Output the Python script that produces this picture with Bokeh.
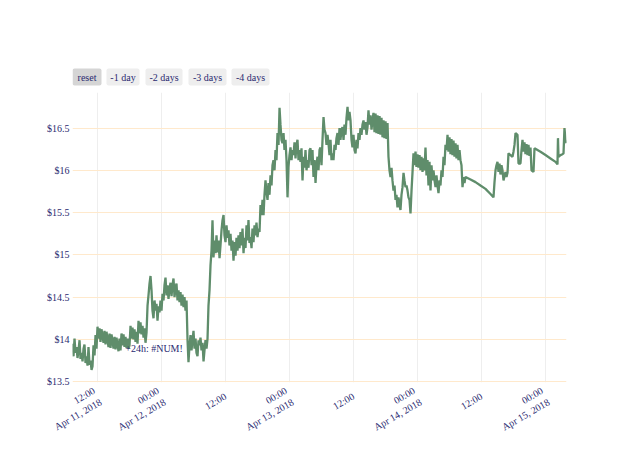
import math
import pandas as pd
from bokeh.plotting import figure
from bokeh.layouts import column
from bokeh.models import Range1d, FixedTicker, CustomJSTickFormatter, Label, ColumnDataSource
from bokeh.core.properties import value
from bokeh.embed import file_html
from bokeh.resources import INLINE

# ---- data: hours since 2018-04-11 00:00 and price (USD) ----
seg1_hours = [7.31, 7.50, 7.69, 7.88, 8.06, 8.25, 8.44, 8.63, 8.81, 9.00, 9.19, 9.38, 9.56, 9.75, 9.94,
              10.13, 10.31, 10.50, 10.69, 10.88, 11.06, 11.25, 11.44, 11.63, 11.81, 12.00]
seg1_price = [13.95, 13.80, 14.01, 13.84, 13.91, 13.78, 13.87, 13.99, 13.77, 13.84, 13.74, 13.89, 13.94, 13.72, 13.80,
              13.69, 13.91, 13.70, 13.75, 13.64, 13.68, 13.93, 13.81, 14.05, 13.89, 14.15]

seg2_hours = [12.19, 12.38, 12.56, 12.75, 13.13, 13.31, 13.50, 13.69, 14.06, 14.25, 14.44, 14.63, 15.00, 15.19,
              15.38, 15.56, 15.94, 16.13, 16.31, 16.50, 16.69, 16.88, 17.06, 17.25, 17.44, 17.63, 17.81, 18.00,
              18.19, 18.38, 18.56, 18.75, 18.94, 19.13, 19.31, 19.50, 19.69, 19.88, 20.06, 20.25, 20.44, 20.63,
              20.81, 21.00, 21.19]
seg2_price = [14.01, 14.13, 13.97, 14.12, 13.96, 14.10, 13.94, 14.09, 13.91, 14.07, 13.90, 14.06, 13.89, 14.03,
              13.88, 14.02, 13.86, 14.01, 13.87, 14.07, 13.93, 14.06, 13.91, 14.03, 13.90, 14.01, 13.89, 13.93,
              14.16, 14.01, 14.14, 14.00, 14.12, 13.97, 14.09, 13.95, 14.22, 14.07, 14.20, 14.06, 14.16, 14.02,
              14.13, 13.96, 14.08]

seg3_hours = [21.38, 21.56, 21.75, 21.94, 22.13, 22.31, 22.50, 22.69, 22.88, 23.06, 23.25, 23.44, 23.63, 23.81,
              24.00, 24.19, 24.38, 24.56, 24.75, 24.94, 25.13, 25.31, 25.50, 25.69, 25.88, 26.06, 26.25, 26.44,
              26.63, 26.81, 27.00, 27.19, 27.38, 27.56, 27.75, 27.94, 28.13, 28.31, 28.50, 28.69, 28.88, 29.06,
              29.25, 29.44, 29.63, 29.81, 30.00, 30.19, 30.38, 30.56, 30.75, 30.94, 31.13, 31.31, 31.50, 31.69,
              31.88, 32.06, 32.25, 32.44, 32.63, 32.81, 33.00, 33.19, 33.38, 33.56]
seg3_price = [14.40, 14.52, 14.66, 14.75, 14.58, 14.34, 14.25, 14.46, 14.34, 14.42, 14.22, 14.39, 14.32, 14.46,
              14.34, 14.54, 14.46, 14.64, 14.73, 14.52, 14.64, 14.48, 14.60, 14.67, 14.51, 14.64, 14.72, 14.50,
              14.61, 14.66, 14.46, 14.58, 14.44, 14.56, 14.40, 14.53, 14.38, 14.50, 14.34, 14.46, 13.99, 13.73,
              13.93, 14.05, 13.87, 13.99, 14.10, 13.89, 14.01, 13.84, 13.80, 13.99, 13.93, 14.02, 13.87, 13.96,
              13.74, 13.87, 13.99, 13.89, 14.01, 14.40, 14.58, 14.88, 15.05, 15.41]

seg4_hours = [33.75, 33.94, 34.13, 34.31, 34.50, 34.69, 34.88, 35.06, 35.25, 35.44, 35.63, 35.81, 36.00, 36.19,
              36.38, 36.56, 36.75, 36.94, 37.13, 37.31, 37.50, 37.69, 37.88, 38.06, 38.25, 38.44, 38.63, 38.81,
              39.00, 39.19, 39.38, 39.56, 39.75, 39.94, 40.13, 40.31, 40.50, 40.69, 40.88, 41.06, 41.25, 41.44,
              41.63, 41.81, 42.00, 42.19, 42.38, 42.56, 42.75, 42.94]
seg4_price = [14.97, 15.17, 15.02, 15.23, 15.03, 15.17, 14.96, 15.11, 15.29, 15.41, 15.47, 15.23, 15.15, 15.35,
              15.20, 15.29, 15.11, 15.25, 15.05, 15.17, 14.93, 15.15, 14.99, 15.20, 15.05, 15.23, 15.08, 15.27,
              15.11, 15.31, 15.02, 15.20, 15.08, 15.35, 15.17, 15.41, 15.14, 15.21, 15.08, 15.31, 15.15, 15.35,
              15.23, 15.38, 15.21, 15.31, 15.27, 15.59, 15.47, 15.65]

seg5_hours = [43.13, 43.31, 43.50, 43.69, 43.88, 44.06, 44.25, 44.44, 44.63, 44.81, 45.00, 45.19, 45.38, 45.56,
              45.75, 45.94, 46.13, 46.31, 46.50, 46.69, 46.88, 47.06, 47.25, 47.44, 47.63, 47.81, 48.00, 48.19,
              48.38, 48.56, 48.75, 48.94, 49.13, 49.31, 49.50, 49.69, 49.88, 50.06, 50.25, 50.44, 50.63, 50.81,
              51.00, 51.19, 51.38, 51.56, 51.75, 51.94, 52.13, 52.31, 52.50, 52.69, 52.88, 53.06, 53.25, 53.44,
              53.63, 53.81]
seg5_price = [15.47, 15.71, 15.88, 15.74, 15.65, 15.85, 15.71, 15.94, 15.82, 16.06, 16.12, 16.00, 16.24, 16.12,
              16.44, 16.30, 16.74, 16.54, 16.36, 16.32, 16.44, 16.24, 16.36, 16.12, 15.68, 16.04, 16.18, 16.27,
              16.12, 16.24, 16.18, 16.33, 16.14, 16.30, 16.36, 16.12, 16.24, 16.10, 16.26, 15.88, 16.16, 16.03,
              16.24, 16.00, 16.12, 16.03, 16.24, 16.26, 16.06, 16.24, 15.92, 16.12, 15.85, 16.06, 16.16, 16.00,
              16.24, 16.27]

seg6_hours = [54.00, 54.19, 54.38, 54.56, 54.75, 54.94, 55.13, 55.31, 55.50, 55.69, 55.88, 56.06, 56.25, 56.44,
              56.63, 56.81, 57.00, 57.19, 57.38, 57.56, 57.75, 57.94, 58.13, 58.31, 58.50, 58.69, 58.88, 59.06,
              59.25, 59.44, 59.63, 59.81, 60.00, 60.19, 60.38, 60.56, 60.75, 60.94, 61.13, 61.31, 61.50, 61.69,
              61.88, 62.06, 62.25, 62.44, 62.63, 62.81, 63.00, 63.19, 63.38, 63.56, 63.75, 63.94, 64.13, 64.31,
              64.50, 64.69, 64.88, 65.06, 65.25, 65.44, 65.63, 65.81, 66.00, 66.19, 66.38, 66.56]
seg6_price = [16.06, 16.36, 16.63, 16.48, 16.44, 16.30, 16.42, 16.32, 16.18, 16.36, 16.12, 16.20, 16.12, 16.30,
              16.24, 16.38, 16.44, 16.30, 16.50, 16.36, 16.48, 16.51, 16.36, 16.54, 16.42, 16.62, 16.75, 16.59,
              16.69, 16.59, 16.36, 16.27, 16.42, 16.24, 16.20, 16.36, 16.26, 16.44, 16.36, 16.50, 16.42, 16.54,
              16.59, 16.48, 16.57, 16.42, 16.51, 16.71, 16.54, 16.65, 16.48, 16.59, 16.68, 16.45, 16.67, 16.44,
              16.65, 16.43, 16.64, 16.42, 16.62, 16.39, 16.59, 16.38, 16.58, 16.37, 16.56, 16.16]

seg7_hours = [66.75, 66.94, 67.13, 67.31, 67.50, 67.69, 67.88, 68.06, 68.25, 68.44, 68.63, 68.81, 69.00, 69.19,
              69.38, 69.56, 69.75, 69.94, 70.13, 70.31, 70.50, 70.69, 70.88, 71.06, 71.25, 71.44, 71.63, 71.81,
              72.00, 72.19, 72.38, 72.56, 72.75, 72.94, 73.13, 73.31, 73.50, 73.69, 73.88, 74.06, 74.25, 74.44,
              74.63, 74.81, 75.00, 75.19, 75.38, 75.56, 75.75, 75.94, 76.13, 76.31, 76.50, 76.69, 76.88, 77.06,
              77.25, 77.44, 77.63, 77.81, 78.00, 78.19, 78.38, 78.56, 78.75, 78.94, 79.13, 79.31, 79.50, 79.69,
              79.88, 80.06, 80.25, 80.44, 80.63, 80.81, 81.00]
seg7_price = [16.00, 15.92, 16.03, 15.88, 15.76, 15.82, 15.65, 15.71, 15.56, 15.68, 15.59, 15.53, 15.71, 15.80,
              15.97, 15.88, 15.80, 15.82, 15.76, 15.68, 15.65, 15.49, 15.76, 15.97, 16.20, 16.06, 16.22, 16.04,
              16.19, 16.03, 16.18, 16.00, 16.16, 15.98, 16.14, 16.00, 16.27, 15.94, 16.12, 15.82, 16.10, 15.76,
              16.06, 15.88, 16.00, 15.88, 15.80, 15.94, 15.82, 15.73, 15.88, 15.82, 16.00, 15.92, 16.16, 16.06,
              16.30, 16.24, 16.42, 16.22, 16.39, 16.19, 16.37, 16.18, 16.35, 16.16, 16.32, 16.14, 16.30, 16.12,
              16.24, 16.12, 16.06, 15.80, 15.92, 15.85, 15.92]

seg8_hours = [81.94, 82.88, 83.81, 84.75, 85.69, 86.25, 86.44, 86.63, 86.81, 87.00, 87.19, 87.38, 87.56, 87.75,
              87.94, 88.13, 88.31, 88.50, 88.69, 88.88, 89.06, 89.44, 89.81, 90.00, 90.19, 90.38, 90.75, 90.94,
              91.31, 91.50, 91.69, 91.88, 92.06, 92.25, 92.44, 92.63, 92.81, 93.00, 93.19, 93.38, 93.75, 93.94,
              95.06, 96.00, 96.94, 97.88, 98.25, 98.34, 98.44, 98.81, 99.19, 99.38, 99.56, 99.75, 99.94]
seg8_price = [15.89, 15.86, 15.82, 15.78, 15.72, 15.68, 15.86, 16.00, 16.06, 16.10, 15.98, 16.08, 15.95, 16.06,
              16.00, 15.88, 15.93, 15.98, 15.92, 15.97, 16.20, 16.18, 16.16, 16.22, 16.30, 16.44, 16.42, 16.08,
              16.08, 16.24, 16.36, 16.22, 16.33, 16.19, 16.31, 16.18, 16.30, 16.17, 16.27, 16.00, 15.98, 16.26,
              16.22, 16.18, 16.14, 16.10, 16.07, 16.38, 16.16, 16.18, 16.19, 16.20, 16.50, 16.36, 16.32]

x_tick_times = ["2018-04-11 12:00", "2018-04-12 00:00", "2018-04-12 12:00", "2018-04-13 00:00",
                "2018-04-13 12:00", "2018-04-14 00:00", "2018-04-14 12:00", "2018-04-15 00:00"]
x_tick_labels = ["12:00\nApr 11, 2018", "00:00\nApr 12, 2018", "12:00", "00:00\nApr 13, 2018",
                 "12:00", "00:00\nApr 14, 2018", "12:00", "00:00\nApr 15, 2018"]
y_ticks = [13.5, 14, 14.5, 15, 15.5, 16, 16.5]
buttons = ["reset", "-1 day", "-2 days", "-3 days", "-4 days"]
note_text = "+24h: #NUM!"
note_hours = 22.6
note_price = 13.89

# ---- assemble ----
hours = (seg1_hours + seg2_hours + seg3_hours + seg4_hours + seg5_hours + seg6_hours + seg7_hours + seg8_hours)
price = (seg1_price + seg2_price + seg3_price + seg4_price + seg5_price + seg6_price + seg7_price + seg8_price)

start = pd.Timestamp("2018-04-11 00:00")
times = start + pd.to_timedelta(hours, unit="h")
t_ms = [ts.value // 10**6 for ts in times]
xt_ms = [pd.Timestamp(s).value // 10**6 for s in x_tick_times]

src = ColumnDataSource(data=dict(t=t_ms, price=price))

NAVY = "#2a2a70"
FONT = "Liberation Serif"
W = 632
LEFT, RIGHT = 72, 66

# ---- top strip with range-selector style buttons (frame aligned with the chart) ----
top = figure(width=W, height=92, x_range=Range1d(LEFT, W - RIGHT), y_range=Range1d(92, 0),
             output_backend="svg", toolbar_location=None,
             x_axis_location=None, y_axis_location=None,
             min_border_left=LEFT, min_border_right=RIGHT, min_border_top=0, min_border_bottom=0)
top.outline_line_color = None
top.xgrid.visible = False
top.ygrid.visible = False
btn_left = [72, 106, 145, 188, 231]
btn_right = [101, 139, 182, 226, 269]
btn_fill = ["#d5d5d5", "#eeeeee", "#eeeeee", "#eeeeee", "#eeeeee"]
btn_src = ColumnDataSource(data=dict(
    left=btn_left, right=btn_right, top=[68] * 5, bottom=[85] * 5,
    cx=[(a + b) / 2 for a, b in zip(btn_left, btn_right)], cy=[76.5] * 5,
    label=buttons, fill=btn_fill))
top.quad(left="left", right="right", top="top", bottom="bottom", source=btn_src,
         fill_color="fill", line_color=None, border_radius=2)
top.text(x="cx", y="cy", text="label", source=btn_src, text_font=value(FONT),
         text_font_size=value("10px"), text_color=NAVY, text_align="center", text_baseline="middle")

# ---- main chart ----
p = figure(width=W, height=357, x_axis_type="datetime",
           x_range=Range1d(t_ms[0], t_ms[-1]), y_range=Range1d(13.49, 16.92),
           output_backend="svg", toolbar_location=None,
           min_border_left=LEFT, min_border_right=RIGHT, min_border_top=0, min_border_bottom=67)
p.outline_line_color = None
p.background_fill_color = "white"

p.line(x="t", y="price", source=src, line_color="#5f8d6b", line_width=2.3)

p.xaxis.ticker = FixedTicker(ticks=xt_ms)
p.xaxis.formatter = CustomJSTickFormatter(args=dict(labels=x_tick_labels, tick_vals=xt_ms),
                                          code="var i = tick_vals.indexOf(tick); return i >= 0 ? labels[i] : '';")
p.xaxis.major_label_orientation = math.pi / 6
p.yaxis.ticker = FixedTicker(ticks=y_ticks)
p.yaxis.formatter = CustomJSTickFormatter(code='return "$" + tick;')

for ax in (p.xaxis, p.yaxis):
    ax.axis_line_color = None
    ax.major_tick_line_color = None
    ax.minor_tick_line_color = None
    ax.major_tick_out = 0
    ax.major_tick_in = 0
    ax.major_label_standoff = 3
    ax.major_label_text_font = FONT
    ax.major_label_text_font_size = "10px"
    ax.major_label_text_color = NAVY
p.xaxis.major_label_standoff = 13

p.xgrid.grid_line_color = "#eeeeee"
p.ygrid.grid_line_color = "#ffe9cc"

p.add_layout(Label(x=start.value // 10**6 + note_hours * 3600000, y=note_price, text=note_text,
                   text_font=FONT, text_font_size="10px", text_color=NAVY,
                   text_align="center", text_baseline="middle"))

layout = column(top, p, spacing=0)
open("out.html", "w").write(file_html(layout, INLINE))
